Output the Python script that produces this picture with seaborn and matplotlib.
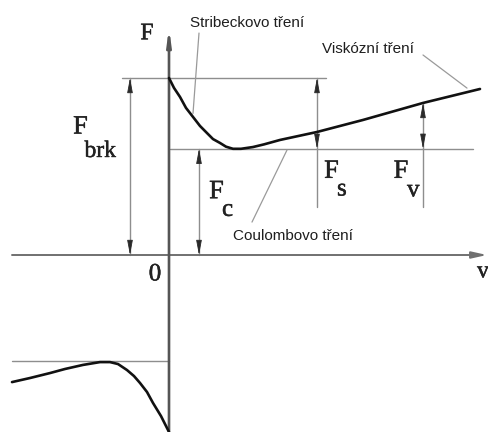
import numpy as np
import pandas as pd
import matplotlib
matplotlib.use("Agg")
import matplotlib.pyplot as plt
import matplotlib.patheffects as pe
import seaborn as sns

# Friction force F(v): positive branch (Stribeck dip then viscous rise)
v_pos = [0.0, 0.05, 0.11, 0.17, 0.24, 0.31, 0.38, 0.44, 0.51, 0.57, 0.64,
         0.72, 0.84, 0.95, 1.11, 1.48, 1.94, 2.54, 3.11]
F_pos = [1.0, 0.944, 0.893, 0.831, 0.780, 0.729, 0.689, 0.655, 0.633, 0.612, 0.600,
         0.600, 0.610, 0.625, 0.650, 0.695, 0.763, 0.859, 0.938]

# Negative branch
v_neg = [-1.57, -1.39, -1.19, -1.04, -0.86, -0.69, -0.59, -0.51, -0.42,
         -0.35, -0.29, -0.22, -0.16, -0.08, 0.0]
F_neg = [-0.718, -0.695, -0.667, -0.644, -0.621, -0.605, -0.605, -0.616, -0.650,
         -0.684, -0.723, -0.774, -0.836, -0.910, -1.0]

# Characteristic levels
F_brk = 1.0      # breakaway force
F_c = 0.6        # Coulomb force
v_s = 1.48       # position of the F_s dimension
v_v = 2.54       # position of the F_v dimension

sns.set_style("white")
plt.rcParams["font.family"] = ["Liberation Sans", "DejaVu Sans"]

fig = plt.figure(figsize=(4.88, 4.32), dpi=100)
ax = fig.add_axes([0, 0, 1, 1])

guide = "#8e8e8e"
head_col = "#2a2a2a"

def head(x, y_tip, direction):
    """Draw a narrow filled arrowhead whose tip sits at (x, y_tip)."""
    L = 0.075 * direction
    ax.annotate("", xy=(x, y_tip), xytext=(x, y_tip - L),
                arrowprops=dict(arrowstyle="-|>,head_length=0.9,head_width=0.17",
                                mutation_scale=10, color=head_col, lw=0.6,
                                shrinkA=0, shrinkB=0))

# friction curves
pos = pd.DataFrame({"v": v_pos, "F": F_pos})
neg = pd.DataFrame({"v": v_neg, "F": F_neg})
sns.lineplot(data=pos, x="v", y="F", sort=False, estimator=None,
             color="#111111", lw=1.9, ax=ax, zorder=5)
sns.lineplot(data=neg, x="v", y="F", sort=False, estimator=None,
             color="#111111", lw=1.9, ax=ax, zorder=5)
ax.set_xlim(-1.69, 3.19)
ax.set_ylim(-1.0, 1.4407)
ax.axis("off")

# coordinate axes
ax.annotate("", xy=(3.18, 0), xytext=(-1.57, 0),
            arrowprops=dict(arrowstyle="-|>,head_length=0.9,head_width=0.2",
                            mutation_scale=10, color="#707070", lw=1.4,
                            shrinkA=0, shrinkB=0))
ax.annotate("", xy=(0, 1.285), xytext=(0, -1.0),
            arrowprops=dict(arrowstyle="-|>,head_length=0.9,head_width=0.12",
                            mutation_scale=10, color="#555555", lw=1.9,
                            shrinkA=0, shrinkB=0))

# horizontal reference levels
ax.plot([-0.47, 1.57], [F_brk, F_brk], color=guide, lw=1.0)
ax.plot([0.01, 3.04], [F_c, F_c], color=guide, lw=1.0)
ax.plot([-1.57, 0.0], [-F_c, -F_c], color=guide, lw=1.0)

# dimension lines
x_brk, x_c = -0.39, 0.30
ax.plot([x_brk, x_brk], [0, F_brk], color=guide, lw=1.0)
head(x_brk, F_brk, 1)
head(x_brk, 0.0, -1)
ax.plot([x_c, x_c], [0, F_c], color=guide, lw=1.0)
head(x_c, F_c, 1)
head(x_c, 0.0, -1)

F_at_vv = np.interp(v_v, v_pos, F_pos)
ax.plot([v_s, v_s], [0.27, F_brk], color=guide, lw=1.0)
head(v_s, F_brk, 1)
head(v_s, F_c, -1)
ax.plot([v_v, v_v], [0.27, F_at_vv], color=guide, lw=1.0)
head(v_v, F_at_vv, 1)
head(v_v, F_c, -1)

# leader lines for the annotations
ax.plot([0.30, 0.24], [1.254, 0.80], color="#9a9a9a", lw=0.9)
ax.plot([2.54, 2.98], [1.13, 0.943], color="#9a9a9a", lw=0.9)
ax.plot([1.18, 0.83], [0.593, 0.186], color="#9a9a9a", lw=0.9)

# symbols (serif)
thick = [pe.withStroke(linewidth=0.35, foreground="#222222")]
serif = dict(family=["Liberation Serif", "DejaVu Serif"], color="#222222",
             path_effects=thick)
ax.text(-0.22, 1.25, "F", fontsize=17, ha="center", va="center", **serif)
ax.text(-0.885, 0.72, "F", fontsize=19, ha="center", va="center", **serif)
ax.text(-0.845, 0.585, "brk", fontsize=17, ha="left", va="center", **serif)
ax.text(0.475, 0.355, "F", fontsize=19, ha="center", va="center", **serif)
ax.text(0.53, 0.255, "c", fontsize=18, ha="left", va="center", **serif)
ax.text(1.625, 0.47, "F", fontsize=19, ha="center", va="center", **serif)
ax.text(1.68, 0.37, "s", fontsize=18, ha="left", va="center", **serif)
ax.text(2.32, 0.47, "F", fontsize=19, ha="center", va="center", **serif)
ax.text(2.38, 0.365, "v", fontsize=18, ha="left", va="center", **serif)
ax.text(-0.14, -0.11, "0", fontsize=18, ha="center", va="center", **serif)
ax.text(3.14, -0.095, "v", fontsize=17, ha="center", va="center", **serif)

# descriptive labels (sans)
sans = dict(fontsize=11, color="#1e1e1e", ha="left", va="baseline")
ax.text(0.21, 1.288, "Stribeckovo tření", **sans)
ax.text(1.53, 1.141, "Viskózní tření", **sans)
ax.text(0.64, 0.085, "Coulombovo tření", **sans)

fig.savefig("out.png", dpi=100)
